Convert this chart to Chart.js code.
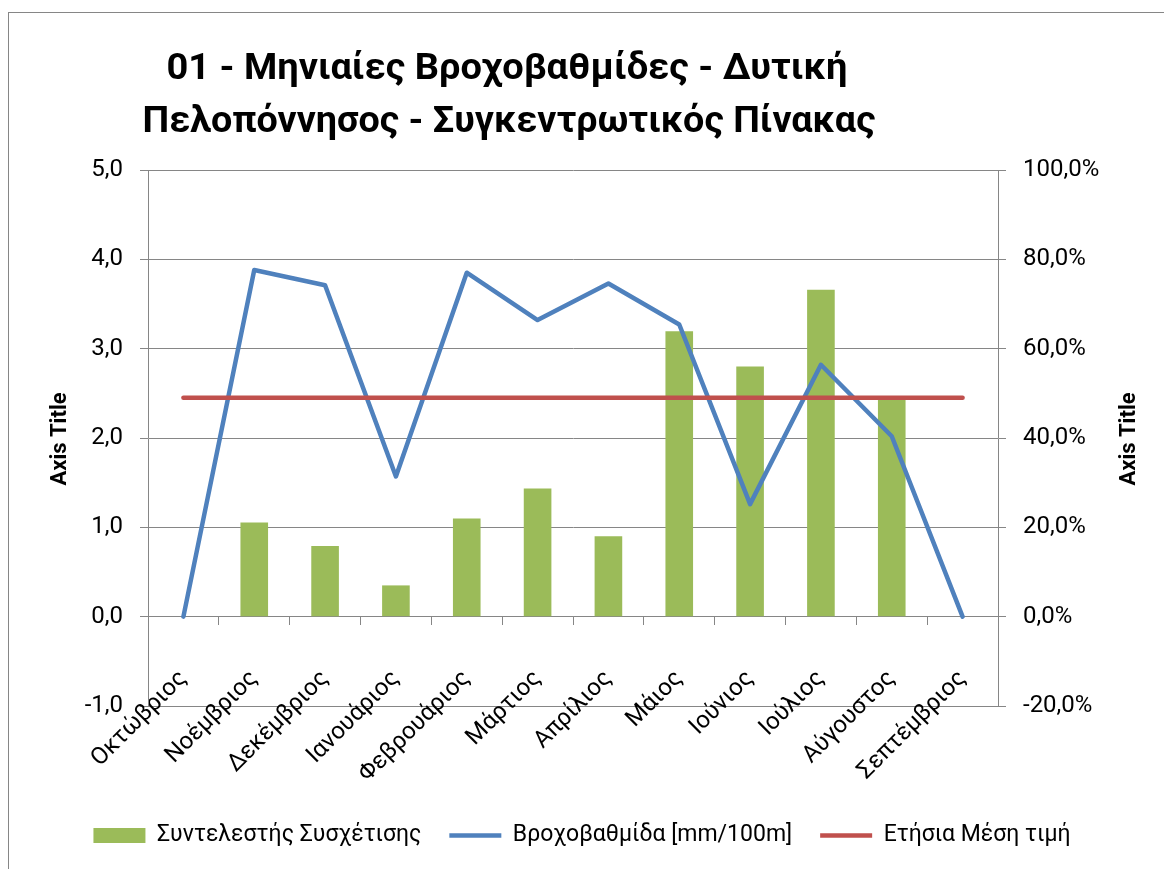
<!DOCTYPE html>
<html>
<head>
<meta charset="utf-8">
<script src="https://cdn.jsdelivr.net/npm/chart.js@4.4.0/dist/chart.umd.min.js"></script>
<style>
html,body{margin:0;padding:0;background:#fff;overflow:hidden}
#wrap{position:relative;width:1164px;height:869px}
#frame{position:absolute;left:8px;top:12px;width:1200px;height:900px;border:1px solid #868686}
canvas{position:absolute;left:0;top:0}
</style>
</head>
<body>
<div id="wrap"><div id="frame"></div><canvas id="myChart" width="1164" height="869"></canvas></div>
<script>
var months = ['Οκτώβριος','Νοέμβριος','Δεκέμβριος','Ιανουάριος','Φεβρουάριος','Μάρτιος','Απρίλιος','Μάιος','Ιούνιος','Ιούλιος','Αύγουστος','Σεπτέμβριος'];
// Συντελεστής Συσχέτισης (%), δεξής άξονας
var syntelestis = [0, 21.1, 15.8, 7.0, 22.0, 28.7, 18.0, 63.9, 56.0, 73.2, 48.9, 0];
// Βροχοβαθμίδα [mm/100m], αριστερός άξονας
var vroxovathmida = [0, 3.88, 3.71, 1.57, 3.85, 3.32, 3.73, 3.27, 1.26, 2.82, 2.02, 0];
var mesiTimi = [2.45, 2.45, 2.45, 2.45, 2.45, 2.45, 2.45, 2.45, 2.45, 2.45, 2.45, 2.45];
var seriesNames = ['Συντελεστής Συσχέτισης', 'Βροχοβαθμίδα [mm/100m]', 'Ετήσια Μέση τιμή'];
var titleLines = ['01 - Μηνιαίες Βροχοβαθμίδες - Δυτική', 'Πελοπόννησος - Συγκεντρωτικός Πίνακας'];
var axisTitle = 'Axis Title';

var gray = '#868686';
Chart.defaults.font.family = 'Roboto';
Chart.defaults.color = '#000';

var extras = {
  id: 'extras',
  afterDraw: function(chart){
    var ctx = chart.ctx;
    ctx.save();
    ctx.fillStyle = '#000';
    ctx.textAlign = 'center';
    ctx.textBaseline = 'alphabetic';
    ctx.font = 'bold 37px Roboto';
    var pos = [[507, 79, 681], [509, 132, 733]];
    for (var i = 0; i < titleLines.length; i++) {
      var w = ctx.measureText(titleLines[i]).width;
      ctx.save();
      ctx.translate(pos[i][0], pos[i][1]);
      ctx.scale(pos[i][2] / w, 1);
      ctx.fillText(titleLines[i], 0, 0);
      ctx.restore();
    }
    ctx.font = 'bold 22px Roboto';
    ctx.textBaseline = 'middle';
    [60, 1129].forEach(function(x){
      ctx.save();
      ctx.translate(x, 439);
      ctx.rotate(-Math.PI / 2);
      ctx.fillText(axisTitle, 0, 0);
      ctx.restore();
    });
    ctx.restore();
  }
};

function fmt(v){ return v.toFixed(1).replace('.', ','); }

new Chart(document.getElementById('myChart'), {
  type: 'bar',
  data: {
    labels: months,
    datasets: [{
      type: 'bar',
      label: seriesNames[0],
      data: syntelestis,
      yAxisID: 'y1',
      backgroundColor: '#9BBB59',
      borderWidth: 0,
      barPercentage: 0.39,
      categoryPercentage: 1,
      pointStyle: 'rect',
      order: 3
    }, {
      type: 'line',
      label: seriesNames[1],
      data: vroxovathmida,
      yAxisID: 'y',
      borderColor: '#4F81BD',
      backgroundColor: '#4F81BD',
      borderWidth: 4.5,
      pointRadius: 0,
      borderCapStyle: 'round',
      borderJoinStyle: 'round',
      pointStyle: 'line',
      order: 2
    }, {
      type: 'line',
      label: seriesNames[2],
      data: mesiTimi,
      yAxisID: 'y',
      borderColor: '#C0504D',
      backgroundColor: '#C0504D',
      borderWidth: 4.5,
      pointRadius: 0,
      borderCapStyle: 'round',
      borderJoinStyle: 'round',
      pointStyle: 'line',
      order: 1
    }]
  },
  options: {
    responsive: false,
    animation: false,
    devicePixelRatio: 1,
    layout: { padding: { top: 170, left: 0, right: 0, bottom: 12 } },
    plugins: {
      title: { display: false },
      tooltip: { enabled: false },
      legend: {
        position: 'bottom',
        // empty legend title only reserves room under the plot for the month labels
        title: { display: true, text: ' ', font: { size: 1, lineHeight: 1 }, padding: { top: 89, bottom: 0 } },
        labels: {
          usePointStyle: true,
          pointStyleWidth: 52,
          boxHeight: 15,
          padding: 28,
          color: '#000',
          font: { size: 23 },
          sort: function(a, b){ return a.datasetIndex - b.datasetIndex; }
        }
      }
    },
    scales: {
      x: {
        position: { y: 0 },
        offset: true,
        grid: { drawOnChartArea: false, drawTicks: true, tickLength: 8, color: gray, offset: true },
        border: { color: gray, width: 1 },
        ticks: { minRotation: 45, maxRotation: 45, padding: 40, font: { size: 24 }, color: '#000', autoSkip: false }
      },
      y: {
        position: 'left',
        min: -1, max: 5,
        grid: { color: gray, lineWidth: 1, tickLength: 8 },
        border: { color: gray, width: 1 },
        ticks: { stepSize: 1, padding: 17, font: { size: 24 }, color: '#000', callback: function(v){ return fmt(v); } },
        afterFit: function(s){ s.width = 148; }
      },
      y1: {
        position: 'right',
        min: -20, max: 100,
        grid: { drawOnChartArea: false, color: gray, tickLength: 8 },
        border: { color: gray, width: 1 },
        ticks: { stepSize: 20, padding: 17, font: { size: 24 }, color: '#000', callback: function(v){ return fmt(v) + '%'; } },
        afterFit: function(s){ s.width = 166; }
      }
    }
  },
  plugins: [extras]
});
</script>
</body>
</html>
